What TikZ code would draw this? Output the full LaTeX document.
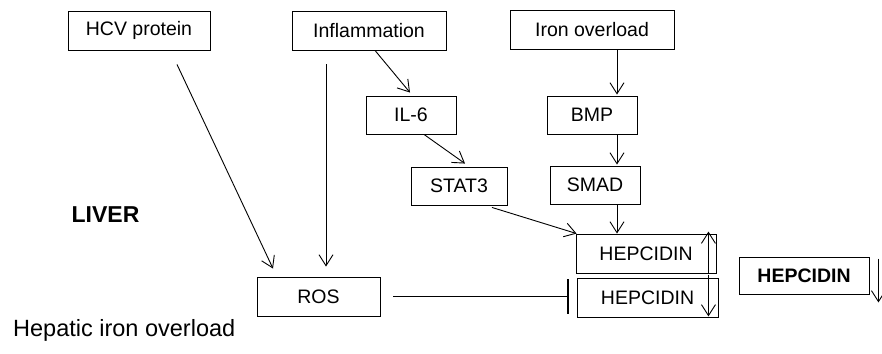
\documentclass[tikz,border=0pt]{standalone}
\usepackage{fontspec}
\setmainfont{Liberation Sans}
\usetikzlibrary{arrows.meta}
\tikzset{
    pbox/.style={draw,line width=0.9pt,inner sep=0pt,font=\fontsize{19.5}{22}\selectfont},
    act/.style={line width=0.9pt,-{Straight Barb[length=11pt,width=14pt]}},
    blk/.style={line width=0.9pt,-{Bar[width=35pt,line width=1.2pt]}}
}
\begin{document}
\begin{tikzpicture}[x=1pt,y=-1pt]
    \useasboundingbox (0,0) rectangle (882,353);

    % top row
    \node[pbox,minimum width=142pt,minimum height=39pt] (hcv) at (139,30.5) {HCV protein};
    \node[pbox,minimum width=154pt,minimum height=39pt] (infl) at (369,30.5) {Inflammation};
    \node[pbox,minimum width=164pt,minimum height=39pt] (iron) at (592,29.5) {Iron overload};

    % signalling
    \node[pbox,minimum width=90pt,minimum height=38pt] (il6) at (411,115) {IL-6};
    \node[pbox,minimum width=90pt,minimum height=38pt] (bmp) at (592,115) {BMP};
    \node[pbox,minimum width=96pt,minimum height=38pt] (stat3) at (459,186) {STAT3};
    \node[pbox,minimum width=90pt,minimum height=38pt] (smad) at (595,185) {SMAD};

    % hepcidin and ros
    \node[pbox,minimum width=140pt,minimum height=39pt] (hepup) at (646,253.5) {HEPCIDIN};
    \node[pbox,minimum width=141pt,minimum height=39pt] (hepdown) at (647.5,297.5) {HEPCIDIN};
    \node[pbox,minimum width=130pt,minimum height=37pt,font=\fontsize{19.5}{22}\selectfont\bfseries] (hepbold) at (804,275.5) {HEPCIDIN};
    \node[pbox,minimum width=123pt,minimum height=39pt] (ros) at (318.5,296.5) {ROS};

    % labels
    \node[font=\fontsize{23}{26}\selectfont\bfseries] (liver) at (105.5,215) {LIVER};
    \node[anchor=west,inner sep=0pt,font=\fontsize{23.5}{27}\selectfont] (hepatic) at (13,330) {Hepatic iron overload};

    % arrows into ROS
    \draw[act] ([xshift=38pt,yshift=-14pt]hcv.south) -- ([xshift=-45.5pt,yshift=8pt]ros.north);
    \draw[act] ([xshift=-43pt,yshift=-14pt]infl.south) -- ([xshift=7.5pt,yshift=10pt]ros.north);

    % inflammation branch
    \draw[act] ([xshift=6pt]infl.south) -- ([xshift=-1pt,yshift=3pt]il6.north);
    \draw[act] ([xshift=13pt]il6.south) -- ([xshift=6pt,yshift=3pt]stat3.north);
    \draw[act] ([xshift=33pt,yshift=-2pt]stat3.south) -- ([xshift=1pt]hepup.north west);

    % iron branch
    \draw[act] ([xshift=25pt]iron.south) -- ([xshift=25pt,yshift=1pt]bmp.north);
    \draw[act] ([xshift=25pt]bmp.south) -- ([xshift=22pt,yshift=1pt]smad.north);
    \draw[act] ([xshift=22pt]smad.south) -- ([xshift=-29pt]hepup.north);

    % inhibition
    \draw[blk,shorten <=13pt,shorten >=8pt] (ros.east) -- (ros.east -| hepdown.west);

    % up and down marks
    \draw[act] ([xshift=-8pt]hepup.south east) -- ([xshift=-8pt,yshift=2pt]hepup.north east);
    \draw[act] ([xshift=-10pt,yshift=3pt]hepdown.north east) -- ([xshift=-10pt,yshift=1pt]hepdown.south east);
    \draw[act] ([xshift=9pt,yshift=-2pt]hepbold.north east) -- ([xshift=9pt,yshift=-8pt]hepbold.south east);
\end{tikzpicture}
\end{document}
